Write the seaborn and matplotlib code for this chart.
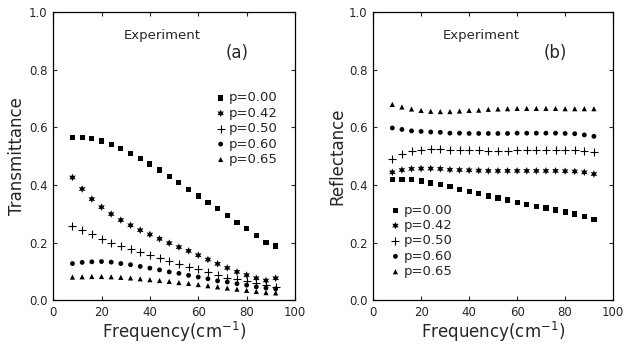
import numpy as np
import pandas as pd
import matplotlib
matplotlib.use("Agg")
import matplotlib.pyplot as plt
import seaborn as sns

# frequency points (cm^-1)
freq = [8, 12, 16, 20, 24, 28, 32, 36, 40, 44, 48, 52, 56, 60, 64, 68, 72, 76, 80, 84, 88, 92]
labels = ["p=0.00", "p=0.42", "p=0.50", "p=0.60", "p=0.65"]

# transmittance, panel (a)
trans_000 = [0.564, 0.564, 0.561, 0.553, 0.541, 0.527, 0.510, 0.492, 0.473, 0.452, 0.430,
             0.408, 0.385, 0.362, 0.340, 0.317, 0.293, 0.270, 0.248, 0.225, 0.200, 0.188]
trans_042 = [0.426, 0.386, 0.351, 0.323, 0.299, 0.278, 0.260, 0.243, 0.228, 0.213, 0.198,
             0.184, 0.171, 0.156, 0.141, 0.126, 0.112, 0.098, 0.087, 0.076, 0.068, 0.076]
trans_050 = [0.257, 0.243, 0.228, 0.213, 0.200, 0.187, 0.176, 0.166, 0.156, 0.147, 0.137,
             0.126, 0.116, 0.108, 0.097, 0.087, 0.078, 0.072, 0.066, 0.058, 0.051, 0.044]
trans_060 = [0.127, 0.131, 0.133, 0.134, 0.132, 0.127, 0.123, 0.117, 0.111, 0.105, 0.098,
             0.093, 0.086, 0.080, 0.074, 0.067, 0.063, 0.057, 0.052, 0.046, 0.042, 0.039]
trans_065 = [0.080, 0.081, 0.082, 0.082, 0.081, 0.079, 0.077, 0.074, 0.071, 0.068, 0.065,
             0.061, 0.058, 0.054, 0.050, 0.046, 0.042, 0.038, 0.034, 0.030, 0.026, 0.025]

# reflectance, panel (b)
refl_000 = [0.420, 0.420, 0.418, 0.414, 0.407, 0.401, 0.394, 0.385, 0.377, 0.369, 0.362,
            0.355, 0.348, 0.340, 0.333, 0.326, 0.320, 0.313, 0.306, 0.299, 0.290, 0.279]
refl_042 = [0.444, 0.452, 0.456, 0.457, 0.457, 0.456, 0.453, 0.452, 0.451, 0.450, 0.449,
            0.449, 0.449, 0.449, 0.449, 0.449, 0.449, 0.449, 0.448, 0.447, 0.444, 0.438]
refl_050 = [0.490, 0.507, 0.517, 0.522, 0.524, 0.524, 0.523, 0.522, 0.521, 0.520, 0.519,
            0.519, 0.519, 0.520, 0.520, 0.521, 0.521, 0.521, 0.521, 0.521, 0.517, 0.514]
refl_060 = [0.598, 0.593, 0.588, 0.586, 0.584, 0.583, 0.580, 0.580, 0.579, 0.579, 0.579,
            0.579, 0.579, 0.580, 0.580, 0.580, 0.580, 0.580, 0.579, 0.578, 0.574, 0.569]
refl_065 = [0.680, 0.671, 0.664, 0.659, 0.656, 0.655, 0.655, 0.657, 0.659, 0.660, 0.663,
            0.664, 0.665, 0.666, 0.666, 0.666, 0.666, 0.666, 0.665, 0.665, 0.665, 0.665]


def to_long(series):
    rows = []
    for lab, vals in zip(labels, series):
        for f, v in zip(freq, vals):
            rows.append({"freq": f, "value": v, "p": lab})
    return pd.DataFrame(rows)


trans_df = to_long([trans_000, trans_042, trans_050, trans_060, trans_065])
refl_df = to_long([refl_000, refl_042, refl_050, refl_060, refl_065])

sns.set_style("ticks")
plt.rcParams["font.family"] = ["DejaVu Sans"]
plt.rcParams["xtick.direction"] = "in"
plt.rcParams["ytick.direction"] = "in"

markers = {"p=0.00": "s", "p=0.42": (6, 1, 0), "p=0.50": "+", "p=0.60": "o", "p=0.65": "^"}
sizes = {"p=0.00": 14, "p=0.42": 30, "p=0.50": 26, "p=0.60": 12, "p=0.65": 14}


def draw_panel(ax, df, ylabel, tag, leg_anchor):
    for lab in labels:
        sub = df[df["p"] == lab]
        if lab == "p=0.50":
            sns.scatterplot(data=sub, x="freq", y="value", marker="+", s=sizes[lab],
                            color="black", linewidth=0.8, ax=ax, label=lab)
        else:
            sns.scatterplot(data=sub, x="freq", y="value", marker=markers[lab],
                            s=sizes[lab], color="black", edgecolor="none", ax=ax, label=lab)
    ax.set_xlim(0, 100)
    ax.set_ylim(0, 1.0)
    ax.set_xticks([0, 20, 40, 60, 80, 100])
    ax.set_yticks([0.0, 0.2, 0.4, 0.6, 0.8, 1.0])
    ax.set_yticklabels(["0.0", "0.2", "0.4", "0.6", "0.8", "1.0"])
    ax.tick_params(top=True, right=True, labelsize=8.5, length=3, width=0.8, pad=4)
    for sp in ax.spines.values():
        sp.set_linewidth(0.9)
        sp.set_color("black")
    ax.set_xlabel("Frequency(cm$^{-1}$)", fontsize=12, labelpad=1)
    ax.set_ylabel(ylabel, fontsize=12, labelpad=2)
    ax.text(45, 0.92, "Experiment", fontsize=9.5, ha="center", va="center")
    ax.text(76, 0.86, tag, fontsize=12, ha="center", va="center")
    ax.legend(loc="upper left", bbox_to_anchor=leg_anchor, frameon=False, fontsize=9.5,
              handletextpad=0.0, labelspacing=0.18, borderpad=0, handlelength=1.2,
              borderaxespad=0)


fig = plt.figure(figsize=(6.25, 3.51), dpi=100)
ax1 = fig.add_axes([0.085, 0.145, 0.387, 0.82])
ax2 = fig.add_axes([0.597, 0.145, 0.384, 0.82])

draw_panel(ax1, trans_df, "Transmittance", "(a)", (0.66, 0.725))
draw_panel(ax2, refl_df, "Reflectance", "(b)", (0.06, 0.335))

fig.savefig("out.png", dpi=100)
